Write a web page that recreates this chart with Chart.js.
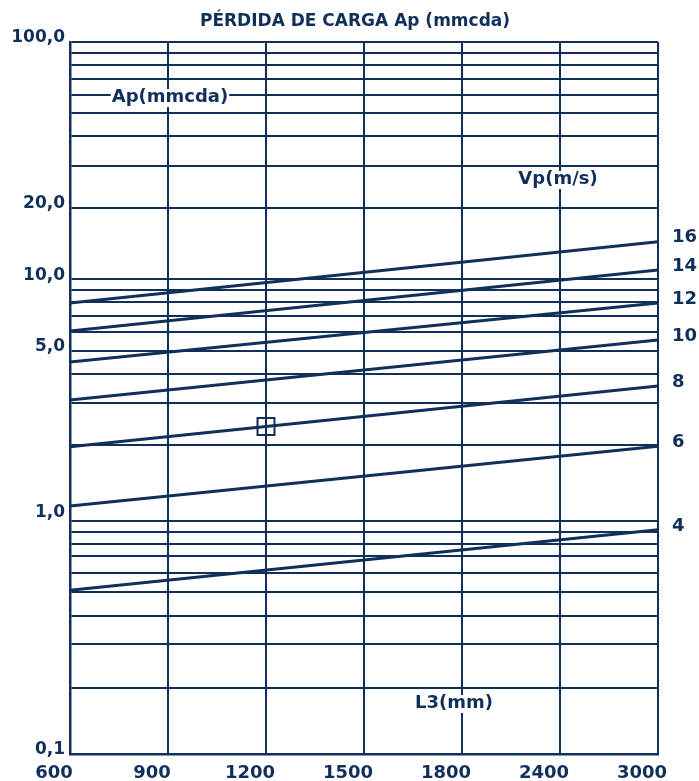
<!DOCTYPE html>
<html>
<head>
<meta charset="utf-8">
<script src="https://cdn.jsdelivr.net/npm/chart.js@4.4.0/dist/chart.umd.min.js"></script>
<style>
body { margin: 0; background: #fff; }
#wrap { width: 699px; height: 781px; }
</style>
</head>
<body>
<div id="wrap"><canvas id="myChart"></canvas></div>
<script>
var navy = '#10305a';

// x categories (L3 in mm), evenly spaced on the chart
var xLabels = ['600', '900', '1200', '1500', '1800', '2400', '3000'];

// velocity lines Vp (m/s): pressure loss at the left (600) and right (3000) edge
var speeds     = [16, 14, 12, 10, 8, 6, 4];
var lossAt600  = [7.95, 6.06, 4.48, 3.10, 1.97, 1.11, 0.49];
var lossAt3000 = [14.4, 10.95, 7.95, 5.55, 3.55, 1.98, 0.88];

// small square marker on the 8 m/s line
var markerX = '1200';
var markerY = 2.4;

// y axis tick labels
var yLabelValues = [100, 20, 10, 5, 1, 0.1];
var yLabelTexts  = ['100,0', '20,0', '10,0', '5,0', '1,0', '0,1'];

// horizontal grid lines
var yGridValues = [100, 90, 80, 70, 60, 50, 40, 30, 20,
                   10, 9, 8, 7, 6, 5, 4, 3, 2,
                   0.96, 0.86, 0.77, 0.68, 0.58, 0.48, 0.38, 0.29, 0.19, 0.1];

var titleText = 'PÉRDIDA DE CARGA Ap (mmcda)';

var datasets = speeds.map(function(v, i) {
  return {
    label: v + ' m/s',
    data: [{x: xLabels[0], y: lossAt600[i]}, {x: xLabels[xLabels.length - 1], y: lossAt3000[i]}],
    borderColor: navy,
    borderWidth: 3,
    pointRadius: 0,
    tension: 0
  };
});
datasets.push({
  label: 'marker',
  data: [{x: markerX, y: markerY}],
  showLine: false,
  pointStyle: 'rect',
  pointRadius: 12,
  pointBorderWidth: 2,
  pointBorderColor: navy,
  pointBackgroundColor: 'rgba(0,0,0,0)'
});

var fontFam = '"DejaVu Sans", sans-serif';

// title, numbers at the right end of each velocity line, axis captions
var textPlugin = {
  id: 'texts',
  afterDatasetsDraw: function(chart) {
    var ctx = chart.ctx, a = chart.chartArea;
    ctx.save();
    ctx.fillStyle = navy;
    ctx.textBaseline = 'middle';

    ctx.font = 'bold 17px ' + fontFam;
    ctx.textAlign = 'center';
    ctx.fillText(titleText, 355, a.top - 20);

    ctx.font = 'bold 18px ' + fontFam;
    ctx.textAlign = 'left';
    speeds.forEach(function(v, i) {
      var pts = chart.getDatasetMeta(i).data;
      var p = pts[pts.length - 1];
      ctx.fillText(String(v), p.x + 14, p.y - 4);
    });

    function caption(txt, x, y) {
      var w = ctx.measureText(txt).width;
      ctx.fillStyle = '#fff';
      ctx.fillRect(x - w / 2 - 1, y - 8, w + 2, 18);
      ctx.fillStyle = navy;
      ctx.textAlign = 'center';
      ctx.fillText(txt, x, y);
    }
    caption('Ap(mmcda)', a.left + 100, a.top + 55);
    caption('Vp(m/s)', a.left + 488, a.top + 137);
    caption('L3(mm)', a.left + 384, a.bottom - 51);
    ctx.restore();
  }
};

new Chart(document.getElementById('myChart'), {
  type: 'line',
  data: { labels: xLabels, datasets: datasets },
  options: {
    responsive: true,
    maintainAspectRatio: false,
    animation: false,
    devicePixelRatio: 1,
    layout: { padding: { left: 0, right: 41, top: 42, bottom: 0 } },
    plugins: {
      legend: { display: false },
      tooltip: { enabled: false },
      title: { display: false }
    },
    scales: {
      x: {
        type: 'category',
        offset: false,
        grid: { color: navy, lineWidth: 2, drawTicks: false },
        border: { color: navy, width: 2.5 },
        ticks: {
          color: navy,
          font: { family: fontFam, size: 18, weight: 'bold' },
          padding: 9,
          labelOffset: -16,
          maxRotation: 0,
          autoSkip: false
        },
        afterFit: function(s) { s.height = 27; }
      },
      y: {
        type: 'logarithmic',
        min: 0.1,
        max: 100,
        afterBuildTicks: function(s) {
          var vals = yGridValues.slice();
          yLabelValues.forEach(function(v) { if (vals.indexOf(v) < 0) vals.push(v); });
          s.ticks = vals.map(function(v) { return { value: v }; });
        },
        grid: {
          drawTicks: false,
          lineWidth: 2,
          color: function(c) {
            return yGridValues.indexOf(c.tick.value) >= 0 ? navy : 'rgba(0,0,0,0)';
          }
        },
        border: { color: navy, width: 2.5 },
        ticks: {
          color: navy,
          font: { family: fontFam, size: 17, weight: 'bold' },
          padding: 5,
          labelOffset: -4,
          autoSkip: false,
          callback: function(value) {
            var k = yLabelValues.indexOf(value);
            return k >= 0 ? yLabelTexts[k] : '';
          }
        },
        afterFit: function(s) { s.width = 70; }
      }
    }
  },
  plugins: [textPlugin]
});
</script>
</body>
</html>
